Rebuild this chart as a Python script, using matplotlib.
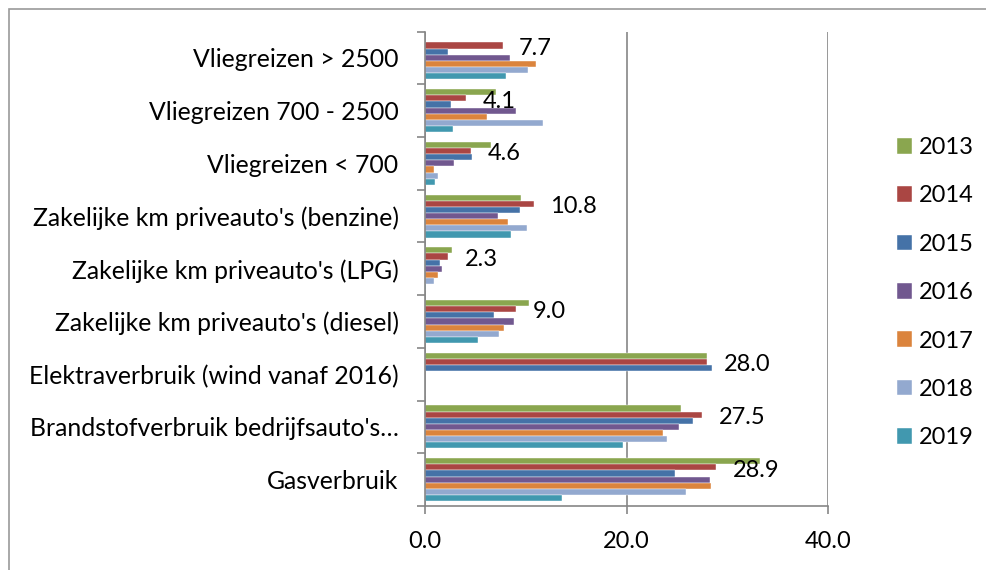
import matplotlib
matplotlib.use("Agg")
import matplotlib.pyplot as plt
from matplotlib.patches import Rectangle
import numpy as np

plt.rcParams['font.family'] = ['Lato', 'DejaVu Sans']

categories = [
    "Gasverbruik",
    "Brandstofverbruik bedrijfsauto's\u2026",
    "Elektraverbruik (wind vanaf 2016)",
    "Zakelijke km priveauto's (diesel)",
    "Zakelijke km priveauto's (LPG)",
    "Zakelijke km priveauto's (benzine)",
    "Vliegreizen < 700",
    "Vliegreizen 700 - 2500",
    "Vliegreizen > 2500",
]
years = ["2013", "2014", "2015", "2016", "2017", "2018", "2019"]

v2013 = [33.3, 25.4, 28.0, 10.3, 2.7, 9.5, 6.6, 7.0, 0.0]
v2014 = [28.9, 27.5, 28.0, 9.0, 2.3, 10.8, 4.6, 4.1, 7.7]
v2015 = [24.8, 26.6, 28.5, 6.8, 1.5, 9.4, 4.7, 2.6, 2.3]
v2016 = [28.3, 25.2, 0.0, 8.8, 1.7, 7.2, 2.9, 9.0, 8.4]
v2017 = [28.4, 23.6, 0.0, 7.8, 1.3, 8.2, 0.9, 6.2, 11.0]
v2018 = [25.9, 24.0, 0.0, 7.3, 0.9, 10.1, 1.3, 11.7, 10.2]
v2019 = [13.6, 19.7, 0.0, 5.3, 0.1, 8.5, 1.0, 2.8, 8.0]
series = [v2013, v2014, v2015, v2016, v2017, v2018, v2019]
label_series = v2014

colors = ["#8AA64F", "#AA4643", "#4572A7", "#71588F", "#DB843D", "#93A9CF", "#4198AF"]

CAT_FS = 17.8
NUM_FS = 17

W, H = 986, 570
fig = plt.figure(figsize=(W / 100, H / 100), dpi=100)
fig.patches.append(Rectangle((9 / W, -0.1), 1.2, 1 - 9 / H + 0.1, transform=fig.transFigure,
                             fill=False, edgecolor="#9A9A9A", linewidth=1.2))

ax = fig.add_axes([425 / W, 1 - 506 / H, (828 - 425) / W, (506 - 31.5) / H])

h = 0.1166
y = np.arange(len(categories))
handles = []
for j, vals in enumerate(series):
    b = ax.barh(y + (3 - j) * h, vals, height=h, color=colors[j], label=years[j],
                edgecolor="white", linewidth=0.3)
    handles.append(b)

for i, v in enumerate(label_series):
    ax.annotate(f"{v:.1f}", (v, y[i] + 2 * h), xytext=(12, -2), textcoords="offset points",
                va="center", ha="left", fontsize=NUM_FS, color="black")

ax.set_xlim(0, 40)
ax.set_ylim(-0.5, len(categories) - 0.5)
ax.set_xticks([0, 20, 40])
ax.set_xticklabels(["0.0", "20.0", "40.0"])
ax.set_yticks(np.arange(-0.5, len(categories), 1.0))
ax.set_yticklabels([])
ax.set_yticks(y, minor=True)
ax.set_yticklabels(categories, minor=True)
ax.tick_params(axis="y", which="major", direction="out", length=6, width=1.2, color="#868686")
ax.tick_params(axis="y", which="minor", length=0, pad=19, labelsize=CAT_FS)
ax.tick_params(axis="x", direction="out", length=6, width=1.2, color="#868686", pad=12, labelsize=NUM_FS)

for s in ["top", "right"]:
    ax.spines[s].set_visible(False)
for s in ["left", "bottom"]:
    ax.spines[s].set_color("#868686")
    ax.spines[s].set_linewidth(1.2)
ax.xaxis.grid(True, color="#868686", linewidth=1.2)
ax.set_axisbelow(True)

leg = fig.legend(handles=handles, labels=years, loc="upper left",
                 bbox_to_anchor=(896.5 / W, 1 - 137 / H), frameon=False, fontsize=NUM_FS,
                 handlelength=0.64, handleheight=0.64, handletextpad=0.32, labelspacing=1.16,
                 borderaxespad=0, borderpad=0)

fig.savefig("out.png", dpi=100)
